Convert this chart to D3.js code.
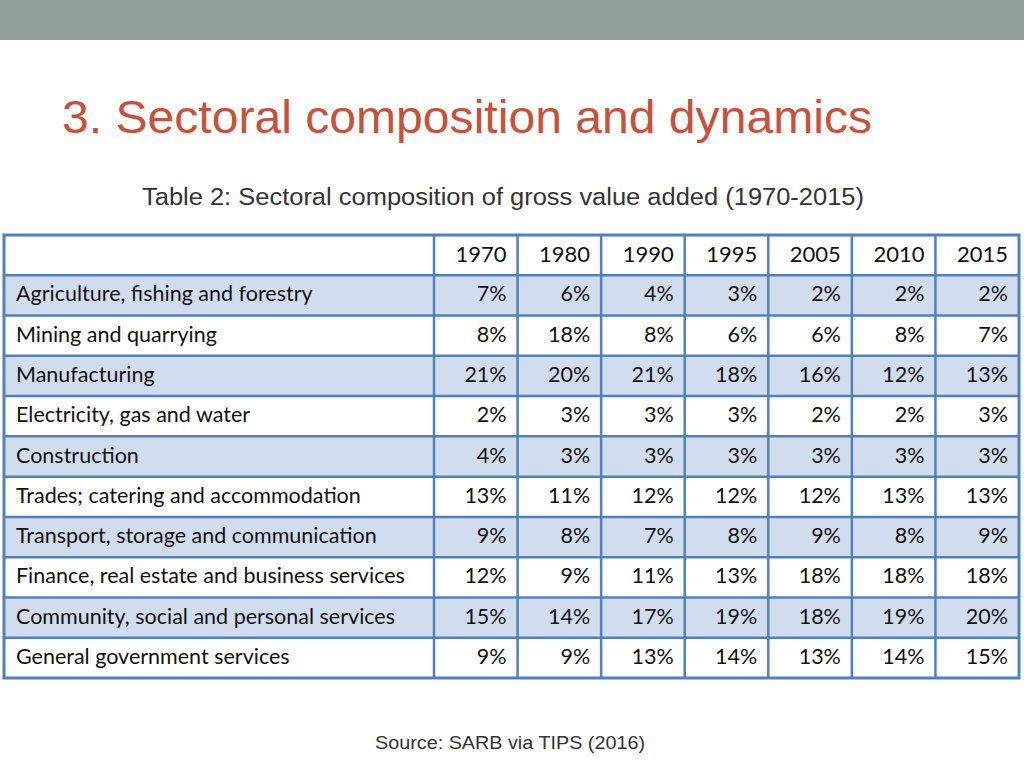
<!DOCTYPE html>
<html><head><meta charset="utf-8">
<script src="https://cdn.jsdelivr.net/npm/d3@7/dist/d3.min.js"></script>
<style>body{margin:0;background:#fff}svg{display:block}</style>
</head><body>
<svg id="c" width="1024" height="768"></svg>
<script>
const years = ["1970","1980","1990","1995","2005","2010","2015"];
const sectors = [
  "Agriculture, fishing and forestry",
  "Mining and quarrying",
  "Manufacturing",
  "Electricity, gas and water",
  "Construction",
  "Trades; catering and accommodation",
  "Transport, storage and communication",
  "Finance, real estate and business services",
  "Community, social and personal services",
  "General government services"
];
const agriculture = [7,6,4,3,2,2,2];
const mining = [8,18,8,6,6,8,7];
const manufacturing = [21,20,21,18,16,12,13];
const electricity = [2,3,3,3,2,2,3];
const construction = [4,3,3,3,3,3,3];
const trades = [13,11,12,12,12,13,13];
const transport = [9,8,7,8,9,8,9];
const finance = [12,9,11,13,18,18,18];
const community = [15,14,17,19,18,19,20];
const government = [9,9,13,14,13,14,15];
const values = [agriculture,mining,manufacturing,electricity,construction,trades,transport,finance,community,government];

const svg = d3.select("#c");
svg.append("rect").attr("x",0).attr("y",0).attr("width",1024).attr("height",40).attr("fill","#91a199");

svg.append("text").attr("x",62).attr("y",133)
  .attr("font-family","Liberation Sans, Arial, sans-serif").attr("font-size",47)
  .attr("fill","#c9503a").attr("textLength",810).attr("lengthAdjust","spacingAndGlyphs")
  .text("3. Sectoral composition and dynamics");

svg.append("text").attr("x",142).attr("y",205)
  .attr("font-family","Liberation Sans, Arial, sans-serif").attr("font-size",23)
  .attr("fill","#333").attr("textLength",722).attr("lengthAdjust","spacingAndGlyphs")
  .text("Table 2: Sectoral composition of gross value added (1970-2015)");

svg.append("text").attr("x",375).attr("y",749)
  .attr("font-family","Liberation Sans, Arial, sans-serif").attr("font-size",18)
  .attr("fill","#333").attr("textLength",270).attr("lengthAdjust","spacingAndGlyphs")
  .text("Source: SARB via TIPS (2016)");

const rowKeys = ["header", ...sectors];
const y = d3.scaleBand().domain(rowKeys).range([235,678]);
const x = d3.scaleBand().domain(years).range([434,1019]);
const labelX0 = 4;

const border = "#4f81bd";
const shade = "#d1ddee";
const g = svg.append("g");
const font = "Lato, Carlito, Calibri, sans-serif";

g.selectAll("rect.row").data(rowKeys).join("rect").attr("class","row")
  .attr("x",labelX0).attr("y",d=>y(d)).attr("width",1019-labelX0).attr("height",y.bandwidth())
  .attr("fill",(d,i)=> (i>0 && i%2===1) ? shade : "#fff");

g.selectAll("line.h").data(rowKeys.slice(1)).join("line").attr("class","h")
  .attr("x1",labelX0).attr("x2",1019).attr("y1",d=>y(d)).attr("y2",d=>y(d))
  .attr("stroke",border).attr("stroke-width",2.5);
g.selectAll("line.v").data(years).join("line").attr("class","v")
  .attr("x1",d=>x(d)).attr("x2",d=>x(d)).attr("y1",235).attr("y2",678)
  .attr("stroke",border).attr("stroke-width",2.5);
g.append("rect").attr("x",labelX0).attr("y",235).attr("width",1019-labelX0).attr("height",443)
  .attr("fill","none").attr("stroke",border).attr("stroke-width",3);

g.selectAll("text.yr").data(years).join("text").attr("class","yr")
  .attr("x",d=>x(d)+x.bandwidth()-11).attr("y",y("header")+y.bandwidth()/2+7)
  .attr("text-anchor","end").attr("font-family",font).attr("font-size",22).attr("fill","#111")
  .text(d=>d);

g.selectAll("text.lab").data(sectors).join("text").attr("class","lab")
  .attr("x",16).attr("y",d=>y(d)+y.bandwidth()/2+6)
  .attr("font-family",font).attr("font-size",21.5).attr("fill","#111")
  .text(d=>d);

sectors.forEach((s,i)=>{
  g.selectAll("text.v"+i).data(values[i]).join("text").attr("class","v"+i)
    .attr("x",(d,j)=>x(years[j])+x.bandwidth()-11).attr("y",y(s)+y.bandwidth()/2+6)
    .attr("text-anchor","end").attr("font-family",font).attr("font-size",21.5).attr("fill","#111")
    .text(d=>d+"%");
});
</script>
</body></html>
